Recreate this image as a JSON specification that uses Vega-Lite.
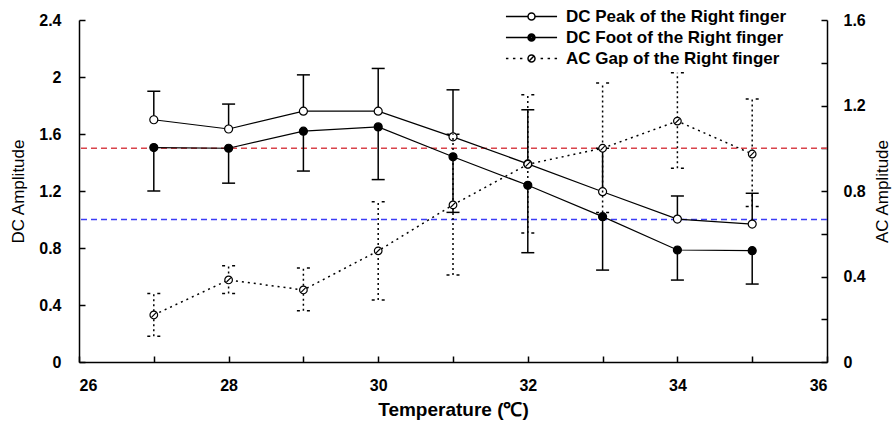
{
  "$schema": "https://vega.github.io/schema/vega-lite/v6.json",
  "width": 748,
  "height": 342,
  "autosize": {"type": "none"},
  "padding": {"left": 79, "top": 20, "right": 69, "bottom": 68},
  "background": "white",
  "config": {
    "view": {"stroke": null},
    "font": "Liberation Sans",
    "axis": {
      "grid": false,
      "domainColor": "black",
      "domainWidth": 1.5,
      "tickColor": "black",
      "tickWidth": 1.5,
      "tickSize": -6,
      "labelFont": "Liberation Sans",
      "labelFontWeight": "bold",
      "labelFontSize": 16,
      "labelColor": "black",
      "titleColor": "black",
      "titleFont": "Liberation Sans",
      "titleFontSize": 17,
      "titleFontWeight": "normal"
    }
  },
  "datasets": {
    "dc": [
      {"t": 27, "series": "Peak", "v": 1.70, "end": 1.90},
      {"t": 28, "series": "Peak", "v": 1.635, "end": 1.81},
      {"t": 29, "series": "Peak", "v": 1.76, "end": 2.015},
      {"t": 30, "series": "Peak", "v": 1.76, "end": 2.06},
      {"t": 31, "series": "Peak", "v": 1.58, "end": 1.91},
      {"t": 32, "series": "Peak", "v": 1.39, "end": 1.77},
      {"t": 33, "series": "Peak", "v": 1.195, "end": 1.50},
      {"t": 34, "series": "Peak", "v": 1.003, "end": 1.165},
      {"t": 35, "series": "Peak", "v": 0.968, "end": 1.184},
      {"t": 27, "series": "Foot", "v": 1.505, "end": 1.20},
      {"t": 28, "series": "Foot", "v": 1.50, "end": 1.255},
      {"t": 29, "series": "Foot", "v": 1.62, "end": 1.34},
      {"t": 30, "series": "Foot", "v": 1.65, "end": 1.28},
      {"t": 31, "series": "Foot", "v": 1.44, "end": 1.05},
      {"t": 32, "series": "Foot", "v": 1.24, "end": 0.767},
      {"t": 33, "series": "Foot", "v": 1.02, "end": 0.645},
      {"t": 34, "series": "Foot", "v": 0.786, "end": 0.575},
      {"t": 35, "series": "Foot", "v": 0.781, "end": 0.547}
    ],
    "ac": [
      {"t": 27, "v": 0.22, "lo": 0.12, "hi": 0.32},
      {"t": 28, "v": 0.384, "lo": 0.32, "hi": 0.45},
      {"t": 29, "v": 0.337, "lo": 0.24, "hi": 0.44},
      {"t": 30, "v": 0.52, "lo": 0.29, "hi": 0.75},
      {"t": 31, "v": 0.735, "lo": 0.407, "hi": 1.065},
      {"t": 32, "v": 0.925, "lo": 0.603, "hi": 1.25},
      {"t": 33, "v": 1.0, "lo": 0.70, "hi": 1.305},
      {"t": 34, "v": 1.127, "lo": 0.907, "hi": 1.353},
      {"t": 35, "v": 0.973, "lo": 0.727, "hi": 1.23}
    ],
    "legend": [
      {"series": "DC Peak of the Right finger"},
      {"series": "DC Foot of the Right finger"},
      {"series": "AC Gap of the Right finger"}
    ]
  },
  "layer": [
    {
      "layer": [
        {
          "data": {"values": [{}]},
          "mark": {"type": "rule", "color": "#d9434a", "strokeDash": [6, 4], "strokeWidth": 1.3},
          "encoding": {"y": {"datum": 1.5, "type": "quantitative"}}
        },
        {
          "data": {"values": [{}]},
          "mark": {"type": "rule", "color": "#3d3df5", "strokeDash": [6, 4], "strokeWidth": 1.3},
          "encoding": {"y": {"datum": 1.0, "type": "quantitative"}}
        },
        {
          "data": {"name": "dc"},
          "mark": {"type": "line", "color": "black", "strokeWidth": 1.2},
          "encoding": {
            "x": {
              "field": "t", "type": "quantitative",
              "scale": {"domain": [26, 36], "nice": false, "zero": false},
              "axis": {
                "title": "Temperature (℃)",
                "titleFontWeight": "bold",
                "titleFontSize": 19,
                "values": [26, 27, 28, 29, 30, 31, 32, 33, 34, 35, 36],
                "labelExpr": "datum.value % 2 == 0 ? toString(datum.value) : ''",
                "labelFlush": true,
                "labelPadding": 21,
                "titlePadding": 7
              }
            },
            "y": {
              "field": "v", "type": "quantitative",
              "scale": {"domain": [0, 2.4], "nice": false, "zero": false},
              "axis": {
                "orient": "left",
                "title": "DC Amplitude",
                "values": [0, 0.2, 0.4, 0.6, 0.8, 1.0, 1.2, 1.4, 1.6, 1.8, 2.0, 2.2, 2.4],
                "labelExpr": "round(datum.value*10) % 4 == 0 ? toString(round(datum.value*10)/10) : ''",
                "labelPadding": 24,
                "titlePadding": 11
              }
            },
            "detail": {"field": "series"}
          }
        },
        {
          "data": {"name": "dc"},
          "mark": {"type": "rule", "color": "black", "strokeWidth": 1.5},
          "encoding": {
            "x": {"field": "t", "type": "quantitative"},
            "y": {"field": "v", "type": "quantitative"},
            "y2": {"field": "end"}
          }
        },
        {
          "data": {"name": "dc"},
          "mark": {"type": "rule", "color": "black", "strokeWidth": 1.5, "xOffset": -6.5, "x2Offset": 6.5},
          "encoding": {
            "x": {"field": "t", "type": "quantitative"},
            "x2": {"field": "t"},
            "y": {"field": "end", "type": "quantitative"}
          }
        },
        {
          "data": {"name": "dc"},
          "mark": {"type": "point", "shape": "circle", "size": 64, "filled": true, "stroke": "black", "strokeWidth": 1.2, "opacity": 1},
          "encoding": {
            "x": {"field": "t", "type": "quantitative"},
            "y": {"field": "v", "type": "quantitative"},
            "fill": {"condition": {"test": "datum.series === 'Foot'", "value": "black"}, "value": "white"}
          }
        }
      ]
    },
    {
      "data": {"name": "ac"},
      "layer": [
        {
          "mark": {"type": "line", "color": "black", "strokeWidth": 1.5, "strokeDash": [2, 4]},
          "encoding": {
            "x": {"field": "t", "type": "quantitative"},
            "y": {
              "field": "v", "type": "quantitative",
              "scale": {"domain": [0, 1.6], "nice": false, "zero": false},
              "axis": {
                "orient": "right",
                "title": "AC Amplitude",
                "titleAngle": 270,
                "values": [0, 0.2, 0.4, 0.6, 0.8, 1.0, 1.2, 1.4, 1.6],
                "labelExpr": "round(datum.value*10) % 4 == 0 ? toString(round(datum.value*10)/10) : ''",
                "labelPadding": 22,
                "titlePadding": 26
              }
            }
          }
        },
        {
          "mark": {"type": "rule", "color": "black", "strokeWidth": 1.5, "strokeDash": [2, 3]},
          "encoding": {
            "x": {"field": "t", "type": "quantitative"},
            "y": {"field": "lo", "type": "quantitative"},
            "y2": {"field": "hi"}
          }
        },
        {
          "mark": {"type": "rule", "color": "black", "strokeWidth": 1.5, "strokeDash": [3, 7], "xOffset": -6.5, "x2Offset": 6.5},
          "encoding": {
            "x": {"field": "t", "type": "quantitative"},
            "x2": {"field": "t"},
            "y": {"field": "lo", "type": "quantitative"}
          }
        },
        {
          "mark": {"type": "rule", "color": "black", "strokeWidth": 1.5, "strokeDash": [3, 7], "xOffset": -6.5, "x2Offset": 6.5},
          "encoding": {
            "x": {"field": "t", "type": "quantitative"},
            "x2": {"field": "t"},
            "y": {"field": "hi", "type": "quantitative"}
          }
        },
        {
          "mark": {"type": "point", "shape": "M1,0A1,1,0,1,1,-1,0A1,1,0,1,1,1,0M-0.55,0.55L0.55,-0.55", "size": 58, "filled": true, "fill": "white", "stroke": "black", "strokeWidth": 1.2, "opacity": 1},
          "encoding": {
            "x": {"field": "t", "type": "quantitative"},
            "y": {"field": "v", "type": "quantitative"}
          }
        }
      ]
    },
    {
      "data": {"name": "legend"},
      "transform": [{"filter": "false"}],
      "mark": {"type": "point", "filled": true, "fill": "white", "stroke": "black", "strokeWidth": 1, "opacity": 1},
      "encoding": {
        "shape": {
          "field": "series", "type": "nominal",
          "scale": {
            "domain": ["DC Peak of the Right finger", "DC Foot of the Right finger", "AC Gap of the Right finger"],
            "range": [
              "M-7.3,0H-1M1,0H7.3M1,0A1,1,0,1,1,-1,0A1,1,0,1,1,1,0",
              "M-7.3,0H-1M1,0H7.3M1,0A1,1,0,1,1,-1,0A1,1,0,1,1,1,0M0.7,0A0.7,0.7,0,1,1,-0.7,0A0.7,0.7,0,1,1,0.7,0M0.4,0A0.4,0.4,0,1,1,-0.4,0A0.4,0.4,0,1,1,0.4,0M0.12,0A0.12,0.12,0,1,1,-0.12,0A0.12,0.12,0,1,1,0.12,0",
              "M-7.3,0H-6.6M-5.3,0H-4.6M-3.3,0H-2.6M2.6,0H3.3M4.6,0H5.3M6.6,0H7.3M1,0A1,1,0,1,1,-1,0A1,1,0,1,1,1,0M-0.55,0.55L0.55,-0.55"
            ]
          },
          "legend": {
            "title": null, "orient": "none", "legendX": 444, "legendY": -12,
            "symbolSize": 49, "labelFontSize": 17, "labelFontWeight": "bold", "labelColor": "black",
            "labelOffset": 26, "padding": 0, "labelLimit": 400, "rowPadding": 3
          }
        }
      }
    }
  ],
  "resolve": {"scale": {"y": "independent"}}
}
